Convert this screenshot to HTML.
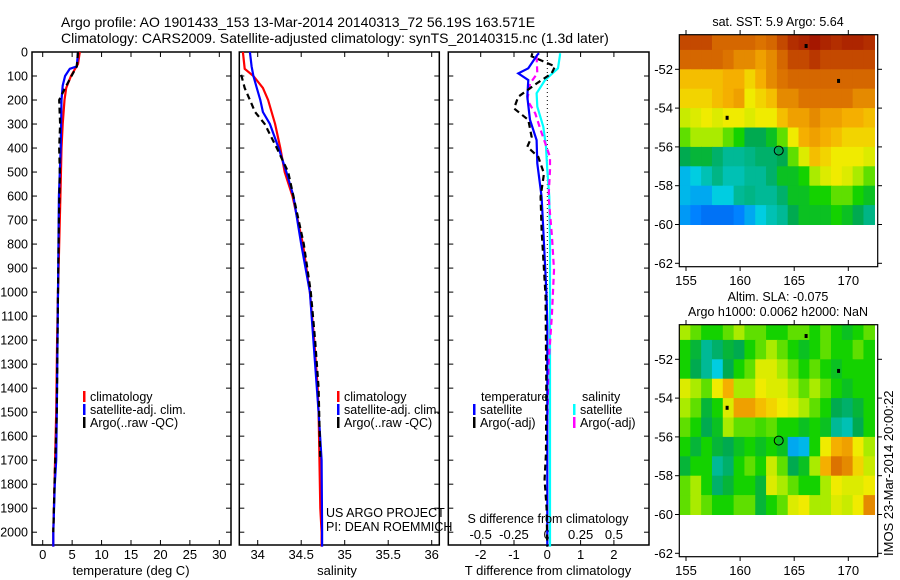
<!DOCTYPE html>
<html><head><meta charset="utf-8"><style>
html,body{margin:0;padding:0;background:#fff;width:900px;height:580px;overflow:hidden}
svg{display:block}
text{font-family:"Liberation Sans",sans-serif;fill:#000}
</style></head><body>
<svg id="fig" width="900" height="580" xmlns="http://www.w3.org/2000/svg">
<text x="61" y="27" font-size="14">Argo profile: AO 1901433_153 13-Mar-2014 20140313_72 56.19S 163.571E</text>
<text x="61" y="43" font-size="14">Climatology: CARS2009. Satellite-adjusted climatology: synTS_20140315.nc (1.3d later)</text>
</svg>
<script>
// ---------- data ----------
const depthTicks=[0,100,200,300,400,500,600,700,800,900,1000,1100,1200,1300,1400,1500,1600,1700,1800,1900,2000];
const tempTicks=[0,5,10,15,20,25,30];
const salTicks=[34,34.5,35,35.5,36];
const tdiffTicks=[-2,-1,0,1,2];
const sdiffTicks=[-0.5,-0.25,0,0.25,0.5];
const sdiffLabels=["-0.5","-0.25","0","0.25","0.5"];

const climTDepth=[0,50,70,100,150,200,300,400,600,800,1000,1200,1500,1800,2000,2060];
const climT=[6.3,6.0,5.5,4.8,4.0,3.7,3.4,3.2,3.0,2.8,2.6,2.45,2.3,2.0,1.8,1.8];
const satTDepth=[0,60,70,100,140,200,400,600,1000,1500,1700,1800,2000,2060];
const satT=[6.0,5.8,4.6,3.8,3.4,3.2,3.05,2.75,2.6,2.4,2.3,2.05,1.8,1.8];
const argoTDepth=[0,60,100,150,200,300,400,500,700,1000,1500,1800,2000];
const argoT=[6.0,5.8,4.9,3.8,2.8,2.95,2.8,2.9,2.75,2.6,2.4,2.0,1.8];

const climSDepth=[0,70,100,150,200,250,300,400,500,600,800,1000,1200,1400,1500,1900,2000,2060];
const climS=[33.83,33.85,33.95,34.06,34.12,34.16,34.2,34.26,34.31,34.4,34.52,34.6,34.65,34.69,34.7,34.72,34.735,34.735];
const satSDepth=[0,60,100,150,200,250,300,400,500,600,800,1000,1500,1700,2000,2060];
const satS=[33.91,33.93,33.95,33.99,34.03,34.06,34.14,34.24,34.33,34.41,34.5,34.6,34.7,34.735,34.74,34.74];
const argoSDepth=[95,150,200,250,300,400,500,600,800,1000,1200,1400,1700];
const argoS=[33.81,33.85,33.91,33.97,34.08,34.22,34.35,34.41,34.53,34.61,34.66,34.7,34.72];

const dTsatDepth=[5,12,68,89,117,186,283,367,464,603,741,1019,1143,1500,2060];
const dTsat=[-0.25,-0.3,-0.57,-0.87,-0.57,-0.6,-0.52,-0.32,-0.3,-0.17,-0.12,-0.02,0,0,0];
const dTargoDepth=[5,18,60,89,131,186,235,283,353,395,437,506,603,741,1019,1400,1670,1780,1900,2060];
const dTargo=[-0.45,-0.47,0.23,0.13,-0.32,-0.87,-1.0,-0.57,-0.47,-0.6,-0.27,-0.1,-0.2,-0.17,-0.05,-0.03,-0.04,-0.08,-0.02,0];
const dSsatDepth=[5,12,68,117,172,228,311,395,492,603,800,1500,2060];
const dSsat=[0.095,0.095,0.08,-0.017,-0.08,-0.075,-0.03,-0.01,0,0.015,0.02,0.02,0.02];
const dSargoDepth=[18,89,131,200,256,325,437,492,603,770,908,1088,1300,1550];
const dSargo=[-0.08,-0.075,-0.13,-0.15,-0.09,-0.05,0.02,0.02,0.01,0.035,0.05,0.035,0.01,0];

const mapLonTicks=[155,160,165,170];
const mapLatTicks=[-52,-54,-56,-58,-60,-62];
const gridLons=[155,156,157,158,159,160,161,162,163,164,165,166,167,168,169,170,171,172];
const gridLats=[-50.5,-51.5,-52.5,-53.5,-54.5,-55.5,-56.5,-57.5,-58.5,-59.5];
const sstGrid=[
[0.85,0.85,0.85,0.8,0.8,0.8,0.8,0.78,0.8,0.85,0.9,0.92,0.95,0.92,0.9,0.92,0.92,0.9],
[0.8,0.8,0.8,0.8,0.78,0.75,0.75,0.72,0.75,0.8,0.85,0.85,0.88,0.85,0.85,0.85,0.85,0.85],
[0.68,0.68,0.68,0.68,0.7,0.7,0.65,0.7,0.75,0.78,0.8,0.8,0.8,0.8,0.8,0.8,0.8,0.8],
[0.65,0.65,0.65,0.68,0.7,0.72,0.62,0.65,0.68,0.75,0.75,0.78,0.78,0.78,0.78,0.78,0.75,0.75],
[0.58,0.6,0.62,0.6,0.62,0.62,0.6,0.62,0.62,0.68,0.72,0.72,0.75,0.72,0.72,0.7,0.7,0.68],
[0.5,0.55,0.55,0.55,0.5,0.45,0.38,0.38,0.42,0.5,0.62,0.7,0.72,0.7,0.68,0.65,0.65,0.65],
[0.38,0.4,0.4,0.35,0.3,0.3,0.32,0.35,0.35,0.38,0.5,0.6,0.68,0.65,0.62,0.62,0.62,0.6],
[0.22,0.25,0.28,0.32,0.28,0.28,0.3,0.3,0.35,0.42,0.42,0.45,0.55,0.6,0.62,0.6,0.55,0.5],
[0.22,0.2,0.2,0.25,0.25,0.3,0.32,0.3,0.3,0.35,0.42,0.42,0.45,0.45,0.5,0.5,0.45,0.42],
[0.18,0.15,0.12,0.12,0.12,0.15,0.2,0.25,0.28,0.3,0.38,0.42,0.42,0.42,0.45,0.42,0.38,0.32]];
const slaGrid=[
[0.55,0.5,0.45,0.45,0.5,0.55,0.5,0.5,0.45,0.45,0.5,0.5,0.45,0.5,0.45,0.42,0.45,0.5],
[0.45,0.4,0.3,0.35,0.4,0.38,0.45,0.5,0.55,0.5,0.45,0.42,0.45,0.5,0.45,0.45,0.5,0.45],
[0.45,0.38,0.3,0.25,0.38,0.45,0.5,0.6,0.6,0.55,0.5,0.45,0.5,0.45,0.42,0.45,0.45,0.45],
[0.6,0.55,0.5,0.62,0.7,0.55,0.55,0.62,0.6,0.6,0.55,0.5,0.55,0.5,0.45,0.42,0.45,0.45],
[0.55,0.5,0.4,0.45,0.6,0.72,0.72,0.68,0.65,0.62,0.6,0.55,0.5,0.45,0.38,0.35,0.4,0.45],
[0.5,0.45,0.38,0.42,0.55,0.5,0.5,0.48,0.5,0.45,0.45,0.42,0.45,0.42,0.3,0.28,0.38,0.45],
[0.45,0.4,0.45,0.4,0.38,0.42,0.45,0.42,0.45,0.42,0.2,0.22,0.45,0.62,0.7,0.72,0.62,0.55],
[0.4,0.45,0.45,0.3,0.35,0.45,0.5,0.45,0.58,0.5,0.38,0.42,0.55,0.7,0.78,0.75,0.65,0.58],
[0.5,0.55,0.45,0.35,0.4,0.45,0.45,0.4,0.6,0.55,0.5,0.45,0.45,0.55,0.62,0.6,0.6,0.62],
[0.5,0.55,0.5,0.45,0.45,0.5,0.5,0.4,0.45,0.5,0.6,0.62,0.55,0.55,0.6,0.58,0.62,0.75]];
const argoPos=[163.57,-56.19];
const islandLons=[166.1,169.1,158.8];
const islandLats=[-50.8,-52.6,-54.5];

// ---------- helpers ----------
const NS="http://www.w3.org/2000/svg";
const svg=document.getElementById('fig');
function mk(tag,attrs,parent){const e=document.createElementNS(NS,tag);for(const k in attrs)e.setAttribute(k,attrs[k]);(parent||svg).appendChild(e);return e;}
function txt(s,x,y,size,anchor,parent){const t=mk('text',{x:x,y:y,'font-size':size,'text-anchor':anchor||'start'},parent);t.textContent=s;return t;}

const TOP=52, BOT=545;
const yD=d=>52+d*0.2401;
const xT=v=>42.7+v*5.887;
const xS=v=>257.7+(v-34)*87;
const xdT=v=>547.3+v*33.3;
const xdS=v=>547.3+v*133.3;

function frame(x0,x1,name){
  const r=mk('rect',{x:x0,y:TOP,width:x1-x0,height:BOT-TOP,fill:'none',stroke:'#000','stroke-width':1.5});
  
  
  depthTicks.forEach(d=>{mk('line',{x1:x0,x2:x0+5,y1:yD(d),y2:yD(d),stroke:'#000'});mk('line',{x1:x1,x2:x1-5,y1:yD(d),y2:yD(d),stroke:'#000'});});
}
function xticks(vals,f,labels,ly){
  vals.forEach((v,i)=>{const x=f(v);mk('line',{x1:x,x2:x,y1:TOP,y2:TOP+5,stroke:'#000'});mk('line',{x1:x,x2:x,y1:BOT,y2:BOT-5,stroke:'#000'});
    if(labels){const t=txt(labels[i],x,ly,13,'middle');}});
}
function profile(depths,vals,fx,color,dash,name){
  const pts=depths.map((d,i)=>fx(vals[i]).toFixed(1)+','+yD(d).toFixed(1)).join(' ');
  const p=mk('polyline',{points:pts,fill:'none',stroke:color,'stroke-width':2.2,'stroke-dasharray':dash||'none'});
  
  
}
function legend(x,y,items){
  items.forEach((it,i)=>{mk('rect',{x:x,y:y+i*13-10,width:2.5,height:11,fill:it[1]});
    const t=txt(it[0],x+7,y+i*13,12.5);});
}

depthTicks.forEach(d=>{const t=txt(String(d),28,yD(d)+4.5,12.5,'end');});

// panel 1
frame(32,231,'temperature-axes');
xticks(tempTicks,xT,tempTicks.map(String),559);
profile(climTDepth,climT,xT,'#f00',null,'temp-climatology-line');
profile(satTDepth,satT,xT,'#00f',null,'temp-satellite-line');
profile(argoTDepth,argoT,xT,'#000','6,4','temp-argo-line');
legend(83,401,[['climatology','#f00'],['satellite-adj. clim.','#00f'],['Argo(..raw -QC)','#000']]);
let t=txt('temperature (deg C)',131,575,13,'middle');

// panel 2
frame(239.3,439.3,'salinity-axes');
xticks(salTicks,xS,["34","34.5","35","35.5","36"],559);
profile(climSDepth,climS,xS,'#f00',null,'sal-climatology-line');
profile(satSDepth,satS,xS,'#00f',null,'sal-satellite-line');
profile(argoSDepth,argoS,xS,'#000','6,4','sal-argo-line');
legend(337,401,[['climatology','#f00'],['satellite-adj. clim.','#00f'],['Argo(..raw -QC)','#000']]);
t=txt('salinity',337,575,13,'middle');
t=txt('US ARGO PROJECT',326,517,12.5);
t=txt('PI: DEAN ROEMMICH',326,531,12.5);

// panel 3
frame(448.3,649,'difference-axes');
xticks(tdiffTicks,xdT,tdiffTicks.map(String),559);
mk('line',{x1:xdT(0),x2:xdT(0),y1:TOP,y2:BOT,stroke:'#000','stroke-dasharray':'1,3'});
sdiffTicks.forEach((v,i)=>{const tt=txt(sdiffLabels[i],xdS(v),539,13,'middle');});
profile(dSsatDepth,dSsat,xdS,'#0ff',null,'sal-diff-satellite-line');
profile(dSargoDepth,dSargo,xdS,'#f0f','6,4','sal-diff-argo-line');
profile(dTsatDepth,dTsat,xdT,'#00f',null,'temp-diff-satellite-line');
profile(dTargoDepth,dTargo,xdT,'#000','6,4','temp-diff-argo-line');
t=txt('temperature',481,401,12.5);
t=txt('salinity',582,401,12.5);
legend(473,414,[['satellite','#00f'],['Argo(-adj)','#000']]);
legend(573,414,[['satellite','#0ff'],['Argo(-adj)','#f0f']]);
t=txt('S difference from climatology',548,523,12.5,'middle');
t=txt('T difference from climatology',548,575,13,'middle');

// colormap
const cstops=[[0,[0,50,210]],[0.15,[0,130,255]],[0.25,[0,205,225]],[0.3,[0,185,150]],[0.38,[0,170,80]],[0.45,[20,210,0]],[0.55,[170,235,0]],[0.62,[240,235,0]],[0.7,[245,175,0]],[0.78,[220,115,0]],[0.88,[185,55,0]],[1,[150,0,0]]];
function cmap(v){for(let i=1;i<cstops.length;i++){if(v<=cstops[i][0]){const a=cstops[i-1],b=cstops[i];const f=(v-a[0])/(b[0]-a[0]);return 'rgb('+a[1].map((c,k)=>Math.round(c+(b[1][k]-c)*f)).join(',')+')';}}return 'rgb(150,0,0)';}

function map(oy,grid,name,titles){
  const xL=lon=>686+(lon-155)*10.82;
  const yL=lat=>oy+69.3+(-52-lat)*19.4;
  const g=mk('g',{});
  
  
  const cw=18.4/18;
  grid.forEach((row,r)=>row.forEach((v,c)=>{
    const lon0=gridLons[c]-0.6, lat0=gridLats[r]+0.5;
    const x0=Math.max(xL(lon0),679.3), x1=xL(lon0+cw)+0.5;
    const y0=Math.max(yL(lat0),oy+34.7), y1=yL(gridLats[r]-0.5)+0.5;
    const cell=mk('rect',{x:x0,y:y0,width:x1-x0,height:y1-y0,fill:cmap(v)},g);
    
    
  }));
  islandLons.forEach((lo,i)=>mk('rect',{x:xL(lo)-1.5,y:yL(islandLats[i])-2,width:3,height:4,fill:'#000'},g));
  const c=mk('circle',{cx:xL(argoPos[0]),cy:yL(argoPos[1]),r:4.5,fill:'none',stroke:'#000','stroke-width':1},g);
  
  
  mk('rect',{x:679.3,y:oy+34.7,width:198.4,height:232,fill:'none',stroke:'#000','stroke-width':1.2});
  mapLonTicks.forEach(lo=>{const x=xL(lo);mk('line',{x1:x,x2:x,y1:oy+34.7,y2:oy+30,stroke:'#000'});mk('line',{x1:x,x2:x,y1:oy+266.7,y2:oy+271,stroke:'#000'});
    const tt=txt(String(lo),x,oy+285,13,'middle');});
  mapLatTicks.forEach(la=>{const y=yL(la);mk('line',{x1:679.3,x2:675,y1:y,y2:y,stroke:'#000'});mk('line',{x1:877.7,x2:882,y1:y,y2:y,stroke:'#000'});
    const tt=txt(String(la),673,y+4.5,13,'end');});
  titles.forEach((s,i)=>{const tt=txt(s,778,oy+(titles.length===1?26:11+i*15),12.5,'middle');});
}
map(0,sstGrid,'sst-map',['sat. SST: 5.9 Argo: 5.64']);
map(290,slaGrid,'sla-map',['Altim. SLA: -0.075','Argo h1000: 0.0062 h2000: NaN']);
t=txt('IMOS 23-Mar-2014 20:00:22',0,0,13,'start');
t.setAttribute('transform','translate(893,556) rotate(-90)');


</script>
</body></html>
